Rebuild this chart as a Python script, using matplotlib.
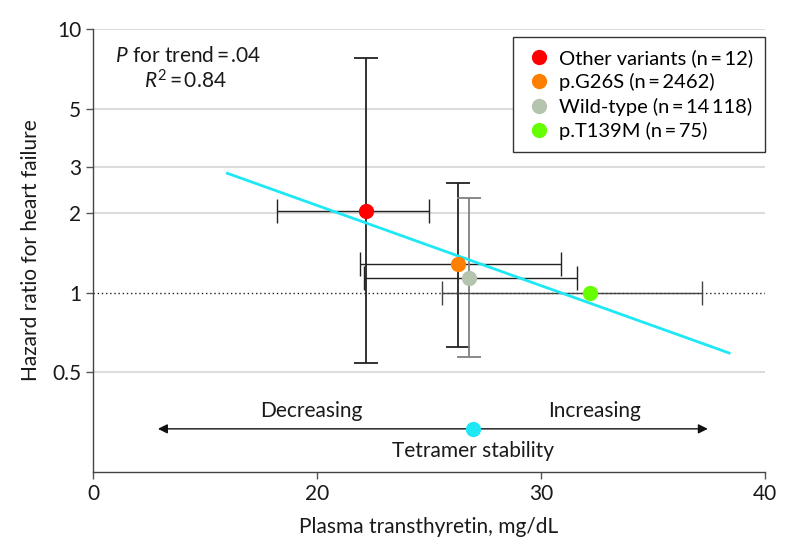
import matplotlib
matplotlib.use("Agg")
import matplotlib.pyplot as plt

plt.rcParams['font.family'] = ['Lato', 'DejaVu Sans']
plt.rcParams['mathtext.fontset'] = 'custom'
plt.rcParams['mathtext.rm'] = 'Lato'
plt.rcParams['mathtext.it'] = 'Lato:italic'

# Data
labels = ['Other variants (n\u2009=\u200912)', 'p.G26S (n\u2009=\u20092462)',
          'Wild-type (n\u2009=\u200914\u2009118)', 'p.T139M (n\u2009=\u200975)']
colors = ['#ff0000', '#ff7f00', '#b4c4ae', '#66ff00']
ttr = [22.2, 26.3, 26.8, 32.2]
ttr_lo = [18.2, 21.9, 22.1, 25.6]
ttr_hi = [25.0, 30.9, 31.6, 37.2]
hr = [2.04, 1.28, 1.14, 1.0]
hr_lo = [0.54, 0.62, 0.57, None]
hr_hi = [7.75, 2.6, 2.28, None]
vbar_colors = ['#222222', '#222222', '#808080', None]
hbar_colors = ['#222222', '#222222', '#222222', '#444444']

trend_x = [16.0, 38.4]
trend_y = [2.84, 0.59]

xticks = [10, 20, 30, 40]
xticklabels = ['0', '20', '30', '40']
yticks = [0.5, 1, 2, 3, 5, 10]
yticklabels = ['0.5', '1', '2', '3', '5', '10']

FS = 15
TXT = '#1a1a1a'

fig = plt.figure(figsize=(7.94, 5.56), dpi=100)
ax = fig.add_axes([0.1171, 0.1516, 0.8463, 0.7957])

ax.set_yscale('log')
ax.set_xlim(10, 40)
ax.set_ylim(0.209, 10)

# horizontal grid (except at 1, which is the dotted reference)
for yv in [0.5, 2, 3, 5, 10]:
    ax.axhline(yv, color='#dcdcdc', lw=1.5, zorder=0)
ax.axhline(1, color='#222222', lw=1, ls=(0, (1, 2)), zorder=1)

# error bars
for i in range(len(ttr)):
    ax.errorbar(ttr[i], hr[i], xerr=[[ttr[i] - ttr_lo[i]], [ttr_hi[i] - ttr[i]]],
                fmt='none', ecolor=hbar_colors[i], elinewidth=1, capsize=8.5,
                capthick=1, zorder=2)
    if hr_lo[i] is not None:
        ax.errorbar(ttr[i], hr[i], yerr=[[hr[i] - hr_lo[i]], [hr_hi[i] - hr[i]]],
                    fmt='none', ecolor=vbar_colors[i], elinewidth=1.3, capsize=8.5,
                    capthick=1.3, zorder=2)

# regression line
ax.plot(trend_x, trend_y, color='#1ee8f5', lw=2, zorder=3)

# points
for i in range(len(ttr)):
    ax.plot(ttr[i], hr[i], 'o', color=colors[i], ms=11, mec='none',
            label=labels[i], zorder=4)

leg = ax.legend(loc='upper right', bbox_to_anchor=(1.0, 0.983), frameon=True,
                fancybox=False, edgecolor='#333333', framealpha=1,
                fontsize=14.5, handletextpad=0.35, labelspacing=0.32,
                borderpad=0.6, handlelength=1.3, borderaxespad=0)
leg.get_frame().set_linewidth(1)

# stats text
ax.text(11.0, 7.91, '$P$ for trend\u2009=\u2009.04', ha='left', va='center',
        fontsize=FS, color=TXT)
ax.text(12.3, 6.36, '$R^2$\u2009=\u20090.84', ha='left', va='center',
        fontsize=FS, color=TXT)

# tetramer stability arrow
ax.annotate('', xy=(12.9, 0.304), xytext=(37.45, 0.304),
            arrowprops=dict(arrowstyle='<|-|>', color='#111111', lw=1,
                            mutation_scale=14, shrinkA=0, shrinkB=0))
ax.plot(26.96, 0.304, 'o', color='#1ee8f5', ms=11, mec='none', zorder=5,
        clip_on=False)
ax.text(19.75, 0.355, 'Decreasing', ha='center', va='center', fontsize=FS,
        color=TXT)
ax.text(32.4, 0.355, 'Increasing', ha='center', va='center', fontsize=FS,
        color=TXT)
ax.text(26.96, 0.251, 'Tetramer stability', ha='center', va='center',
        fontsize=FS, color=TXT)

ax.set_xticks(xticks)
ax.set_xticklabels(xticklabels)
ax.set_yticks(yticks)
ax.set_yticklabels(yticklabels)
ax.minorticks_off()
ax.tick_params(axis='both', labelsize=FS, colors=TXT, length=5,
               width=1, color='#555555')

for s in ['top', 'right']:
    ax.spines[s].set_visible(False)
for s in ['left', 'bottom']:
    ax.spines[s].set_color('#444444')
    ax.spines[s].set_linewidth(1)

ax.set_xlabel('Plasma transthyretin, mg/dL', fontsize=FS, color=TXT,
              labelpad=10)
ax.set_ylabel('Hazard ratio for heart failure', fontsize=FS, color=TXT,
              labelpad=8)

fig.savefig('out.png', dpi=100)
